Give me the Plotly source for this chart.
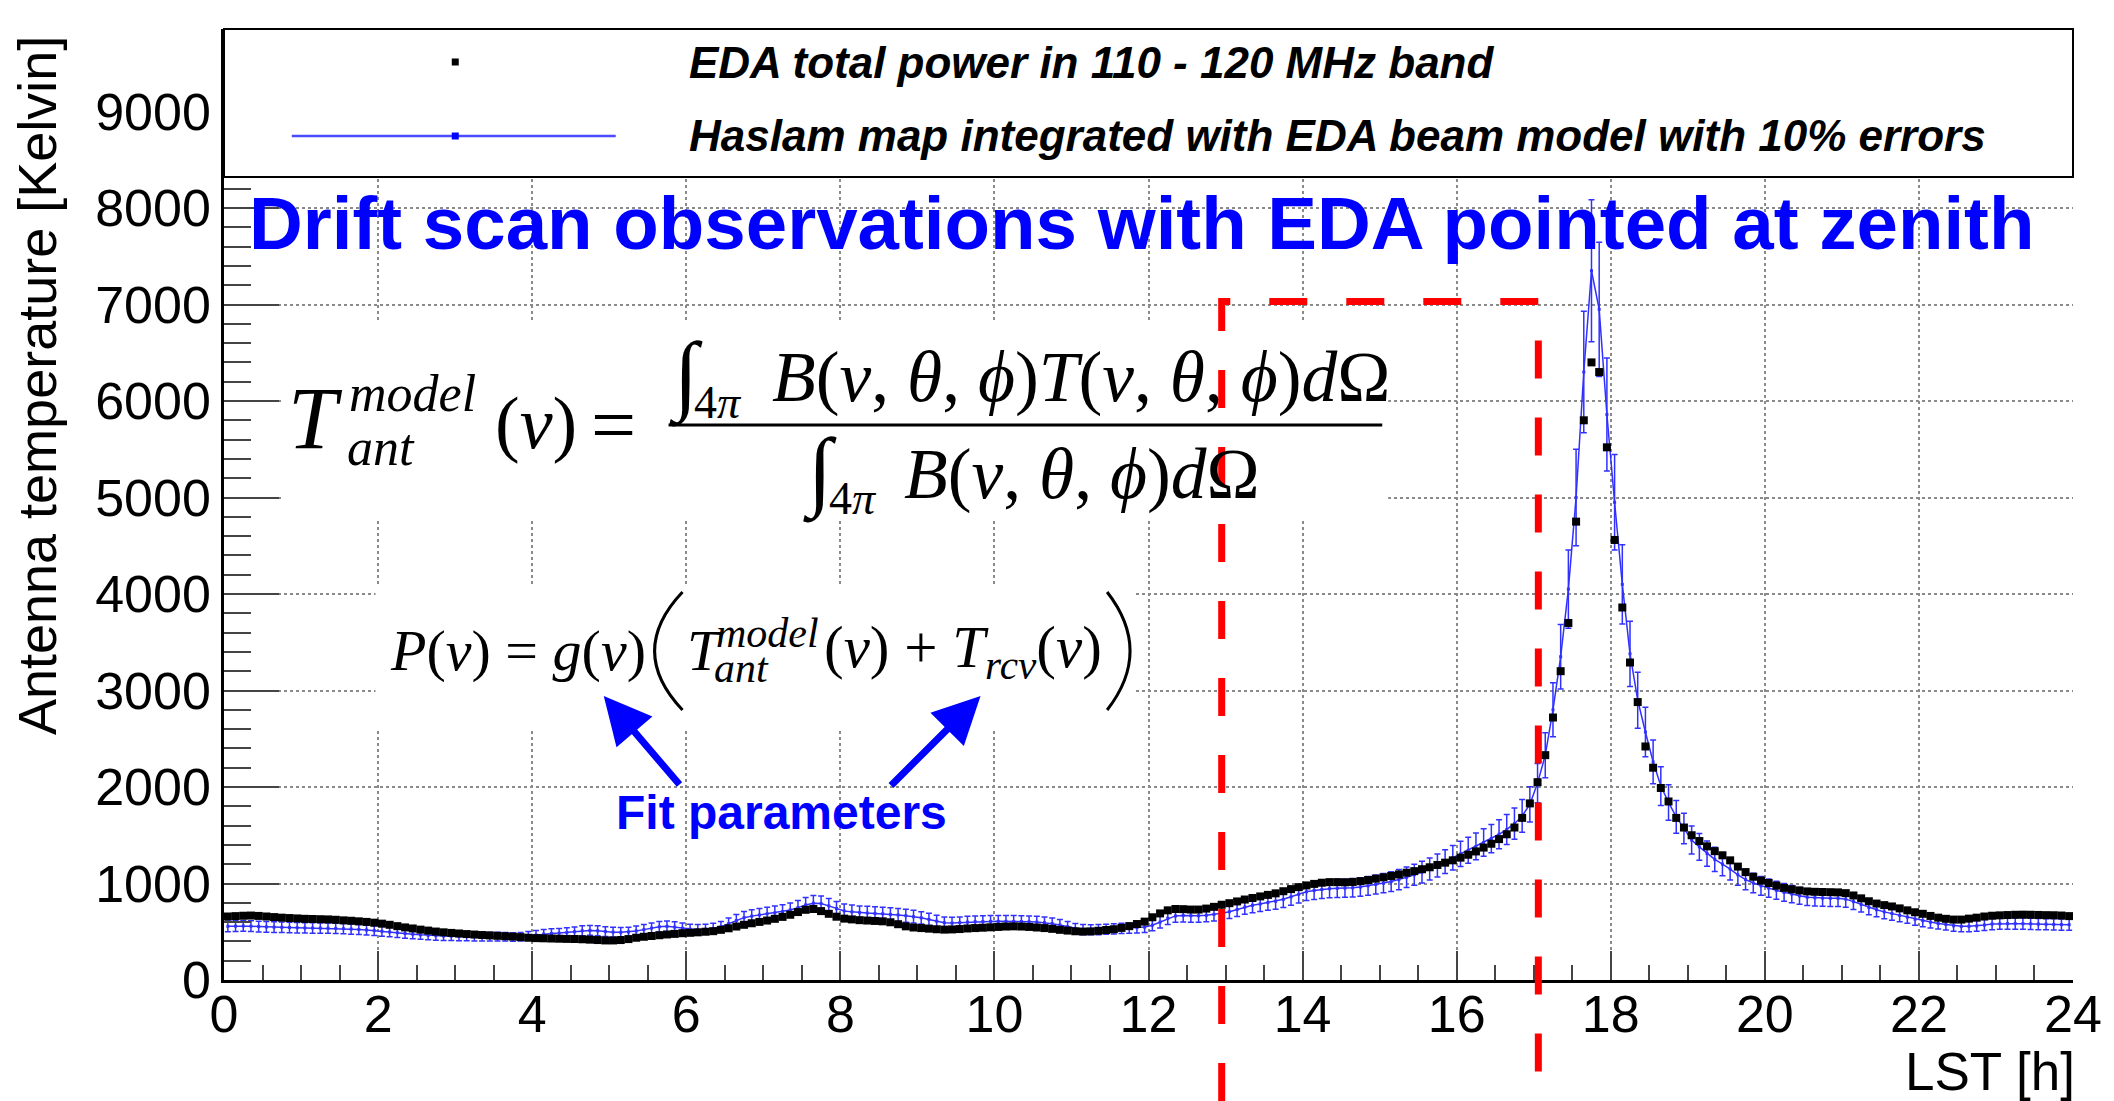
import plotly.graph_objects as go

# ---------------------------------------------------------------------------
# Drift-scan data: EDA total power (110-120 MHz) and Haslam-map model, Kelvin
# ---------------------------------------------------------------------------
lst_h = [round(0.05 + 0.1 * i, 2) for i in range(240)]  # 0.1 h bin centres

eda_power_k = [
    658, 662, 666, 668, 664, 658, 652, 646, 642, 638,
    634, 632, 630, 628, 624, 618, 614, 608, 602, 594,
    584, 572, 558, 545, 534, 522, 512, 502, 494, 488,
    482, 476, 471, 466, 462, 458, 454, 450, 444, 438,
    434, 432, 430, 428, 426, 425, 422, 418, 414, 410,
    410, 414, 424, 438, 448, 456, 464, 472, 478, 485,
    489, 494, 500, 506, 520, 536, 554, 572, 588, 602,
    616, 634, 654, 676, 704, 728, 736, 714, 686, 656,
    636, 628, 620, 616, 612, 608, 598, 578, 556, 544,
    538, 532, 526, 522, 524, 528, 534, 538, 542, 546,
    550, 554, 556, 554, 550, 544, 538, 530, 520, 512,
    505, 502, 504, 510, 518, 526, 540, 558, 580, 605,
    650, 690, 722, 736, 734, 730, 730, 740, 758, 780,
    796, 814, 834, 850, 866, 882, 898, 920, 942, 962,
    980, 996, 1008, 1014, 1014, 1012, 1016, 1024, 1036, 1050,
    1064, 1078, 1094, 1112, 1128, 1148, 1168, 1192, 1216, 1240,
    1268, 1298, 1332, 1372, 1412, 1460, 1510, 1580, 1680, 1830,
    2050, 2330, 2720, 3200, 3700, 4750, 5800, 6400, 6300, 5520,
    4560, 3860, 3290, 2880, 2420, 2200, 1990, 1850, 1680, 1580,
    1500, 1440, 1385, 1335, 1292, 1240, 1175, 1118, 1070, 1030,
    1005, 978, 955, 940, 928, 918, 914, 912, 910, 908,
    900, 876, 846, 816, 792, 776, 762, 742, 722, 702,
    686, 664, 646, 634, 626, 626, 636, 646, 658, 666,
    670, 673, 676, 677, 676, 674, 672, 671, 668, 662,
]

haslam_model_k = [
    556, 558, 560, 558, 554, 550, 548, 546, 544, 542,
    540, 539, 538, 537, 535, 532, 528, 524, 518, 512,
    505, 498, 490, 482, 475, 468, 463, 459, 456, 454,
    452, 451, 450, 450, 450, 449, 448, 446, 448, 456,
    466, 476, 482, 486, 492, 500, 510, 514, 510, 502,
    496, 494, 498, 508, 522, 538, 552, 556, 548, 536,
    526, 522, 526, 534, 552, 584, 616, 646, 662, 674,
    686, 696, 708, 726, 750, 778, 796, 792, 768, 740,
    716, 706, 698, 694, 690, 686, 680, 674, 666, 656,
    644, 628, 610, 594, 590, 594, 600, 604, 606, 607,
    608, 608, 607, 606, 604, 600, 594, 584, 570, 552,
    532, 522, 520, 522, 526, 530, 534, 538, 542, 548,
    568, 600, 640, 664, 668, 666, 666, 670, 680, 692,
    708, 730, 756, 774, 788, 802, 816, 836, 862, 888,
    914, 928, 938, 946, 950, 952, 956, 964, 976, 990,
    1004, 1020, 1040, 1064, 1090, 1118, 1150, 1186, 1226, 1268,
    1306, 1344, 1384, 1424, 1466, 1510, 1560, 1620, 1700, 1820,
    2040, 2330, 2800, 3350, 4050, 5000, 6300, 7350, 6950, 5860,
    4950, 4100, 3380, 2900, 2570, 2260, 2010, 1840, 1690, 1570,
    1450, 1380, 1310, 1250, 1200, 1150, 1090, 1040, 1005, 975,
    952, 930, 908, 890, 872, 858, 852, 849, 847, 846,
    838, 812, 782, 752, 728, 706, 688, 670, 652, 630,
    614, 600, 586, 575, 562, 556, 556, 560, 570, 580,
    583, 584, 584, 583, 582, 580, 578, 576, 574, 573,
]
MODEL_REL_ERR = 0.10  # 10% model uncertainty
haslam_err_k = [MODEL_REL_ERR * v for v in haslam_model_k]

# LST window used for the fit (dashed box)
fit_window_h = [12.95, 17.06]
fit_window_top_k = 7030

legend_labels = [
    "EDA total power in 110 - 120 MHz band",
    "Haslam map integrated with EDA beam model with 10% errors",
]
title_text = "Drift scan observations with EDA pointed at zenith"

# ---------------------------------------------------------------------------
# Geometry
# ---------------------------------------------------------------------------
W, H = 2114, 1101
ML, MR, MT, MB = 224, 35, 29, 121
PW, PH = W - ML - MR, H - MT - MB
X_MAX, Y_MAX = 24, 9855

BLUE = "#3030ff"
PURE_BLUE = "#0000ff"
SANS = "Liberation Sans, Arial, Helvetica, sans-serif"
SERIF = "Liberation Serif, Times New Roman, DejaVu Serif, serif"


def paper(xp, yp):
    """Pixel position on the page -> paper coordinates."""
    return (xp - ML) / PW, (H - MB - yp) / PH


def note(text, xp, yp, size, family=SANS, color="black", xanchor="left",
         yanchor="middle", **kw):
    x, y = paper(xp, yp)
    return dict(text=text, x=x, y=y, xref="paper", yref="paper",
                xanchor=xanchor, yanchor=yanchor, showarrow=False,
                font=dict(size=size, family=family, color=color), **kw)


def curve(x0, y0, xc, yc, x1, y1, width=3):
    """Quadratic curve in page pixels (used for the tall brackets)."""
    a, b, c = paper(x0, y0), paper(xc, yc), paper(x1, y1)
    return dict(type="path", xref="paper", yref="paper",
                path=f"M {a[0]} {a[1]} Q {b[0]} {b[1]} {c[0]} {c[1]}",
                line=dict(color="black", width=width), layer="above")


fig = go.Figure()

fig.add_trace(go.Scatter(
    x=lst_h, y=haslam_model_k, mode="lines+markers",
    line=dict(color=BLUE, width=1.5),
    marker=dict(symbol="square", size=3, color=BLUE),
    error_y=dict(type="data", array=haslam_err_k, color=BLUE,
                 thickness=1.5, width=3),
    showlegend=False,
))
fig.add_trace(go.Scatter(
    x=lst_h, y=eda_power_k, mode="markers",
    marker=dict(symbol="square", size=8, color="black"),
    showlegend=False,
))

shapes = []
annotations = []

# white panels behind the equations
for x0, y0, x1, y1 in [(282, 322, 1392, 520), (376, 585, 1136, 731)]:
    a0, b0 = paper(x0, y1)
    a1, b1 = paper(x1, y0)
    shapes.append(dict(type="rect", xref="paper", yref="paper", x0=a0, y0=b0,
                       x1=a1, y1=b1, fillcolor="white", line=dict(width=0),
                       layer="above"))

# legend box
lx0, ly0 = paper(ML, 177)
lx1, ly1 = paper(W - MR, MT)
shapes.append(dict(type="rect", xref="paper", yref="paper", x0=lx0, y0=ly0,
                   x1=lx1, y1=ly1, fillcolor="white",
                   line=dict(color="black", width=2), layer="above"))

# legend symbols
sx0, sy = paper(292, 136)
sx1, _ = paper(617, 136)
shapes.append(dict(type="line", xref="paper", yref="paper", x0=sx0, y0=sy,
                   x1=sx1, y1=sy, line=dict(color="#4a4aff", width=2.5),
                   layer="above"))
for (cx, cy, hw, col) in [(456, 136, 3.5, PURE_BLUE), (456, 62, 3.5, "black")]:
    a0, b0 = paper(cx - hw, cy + hw)
    a1, b1 = paper(cx + hw, cy - hw)
    shapes.append(dict(type="rect", xref="paper", yref="paper", x0=a0, y0=b0,
                       x1=a1, y1=b1, fillcolor=col, line=dict(width=0),
                       layer="above"))
for i, lab in enumerate(legend_labels):
    annotations.append(note(f"<b><i>{lab}</i></b>", 689, [62, 136][i], 44))

# fit-window dashed box (runs below the axis to the page edge)
xa = fit_window_h[0] / X_MAX
xb = fit_window_h[1] / X_MAX
yt = fit_window_top_k / Y_MAX
yb = paper(0, H)[1]
shapes.append(dict(type="path", xref="paper", yref="paper",
                   path=f"M {xa} {yb} L {xa} {yt} L {xb} {yt} L {xb} {yb}",
                   line=dict(color="#ff0000", width=7, dash="38px,39px"),
                   layer="above"))

# title
annotations.append(note(f"<b>{title_text}</b>", 1144, 224, 74.5,
                        color=PURE_BLUE, xanchor="center"))

# ---- antenna temperature definition ----
annotations += [
    note("<i>T</i>", 286, 418, 88, SERIF),
    note("<i>model</i>", 347, 394, 52, SERIF),
    note("<i>ant</i>", 345, 447, 52, SERIF),
    note("(<i>ν</i>)", 494, 423, 74, SERIF),
    note("=", 590, 425, 80, SERIF),
    note("∫", 668, 376, 88, SERIF),
    note("4<i>π</i>", 694, 402, 46, SERIF),
    note("<i>B</i>(<i>ν</i>, <i>θ</i>, <i>ϕ</i>)<i>T</i>(<i>ν</i>, <i>θ</i>, <i>ϕ</i>)<i>d</i>Ω",
         772, 377, 71.5, SERIF),
    note("∫", 803, 472, 88, SERIF),
    note("4<i>π</i>", 829, 498, 46, SERIF),
    note("<i>B</i>(<i>ν</i>, <i>θ</i>, <i>ϕ</i>)<i>d</i>Ω", 904, 474, 71.5, SERIF),
]
fb0, fby = paper(670, 425)
fb1, _ = paper(1386, 425)
shapes.append(dict(type="line", xref="paper", yref="paper", x0=fb0, y0=fby,
                   x1=fb1, y1=fby, line=dict(color="black", width=3),
                   layer="above"))

# ---- measured power model ----
annotations += [
    note("<i>P</i>(<i>ν</i>) = <i>g</i>(<i>ν</i>)", 389, 651, 58, SERIF),
    note("<i>T</i>", 686, 651, 58, SERIF),
    note("<i>model</i>", 716, 633, 42, SERIF),
    note("<i>ant</i>", 714, 668, 42, SERIF),
    note("(<i>ν</i>) + <i>T</i><sub><i>rcv</i></sub>(<i>ν</i>)", 824, 651, 59, SERIF),
]
shapes.append(curve(684, 592, 628, 651, 684, 710))
shapes.append(curve(1110, 592, 1156, 651, 1110, 710))

# fit-parameter arrows
for (hx, hy, tx, ty) in [(605, 696, 682, 786), (983, 696, 892, 787)]:
    x, y = paper(hx, hy)
    annotations.append(dict(text="", x=x, y=y, xref="paper", yref="paper",
                            showarrow=True, ax=tx - hx, ay=ty - hy,
                            arrowhead=2, arrowsize=1.35, arrowwidth=7,
                            arrowcolor=PURE_BLUE, standoff=0))
annotations.append(note("<b>Fit parameters</b>", 783, 812, 48,
                        color=PURE_BLUE, xanchor="center"))

# axis titles
annotations.append(note("Antenna temperature [Kelvin]", 36, 34, 54,
                        xanchor="center", yanchor="top", textangle=-90))
annotations.append(note("LST [h]", 2083, 1103, 53, xanchor="right",
                        yanchor="bottom"))

grid = dict(showgrid=True, gridcolor="#8a8a8a", gridwidth=1.5, griddash="dot")
axis_common = dict(showline=True, linecolor="black", linewidth=2.5,
                   zeroline=False, ticks="inside", tickcolor="#444",
                   tickwidth=2, tickformat="d",
                   tickfont=dict(family=SANS, size=52, color="black"), **grid)

fig.update_layout(
    width=W, height=H, autosize=False,
    margin=dict(l=ML, r=MR, t=MT, b=MB, pad=0),
    paper_bgcolor="white", plot_bgcolor="white",
    showlegend=False,
    xaxis=dict(range=[0, X_MAX], tick0=0, dtick=2, ticklen=29,
               minor=dict(dtick=0.5, ticks="inside", ticklen=15,
                          tickcolor="#444", tickwidth=2, showgrid=False),
               ticklabelstandoff=-13, **axis_common),
    yaxis=dict(range=[0, Y_MAX], tick0=0, dtick=1000, ticklen=55,
               minor=dict(dtick=200, ticks="inside", ticklen=27,
                          tickcolor="#444", tickwidth=2, showgrid=False),
               ticklabelstandoff=0, **axis_common),
    shapes=shapes,
    annotations=annotations,
)

fig.write_html("out.html")
